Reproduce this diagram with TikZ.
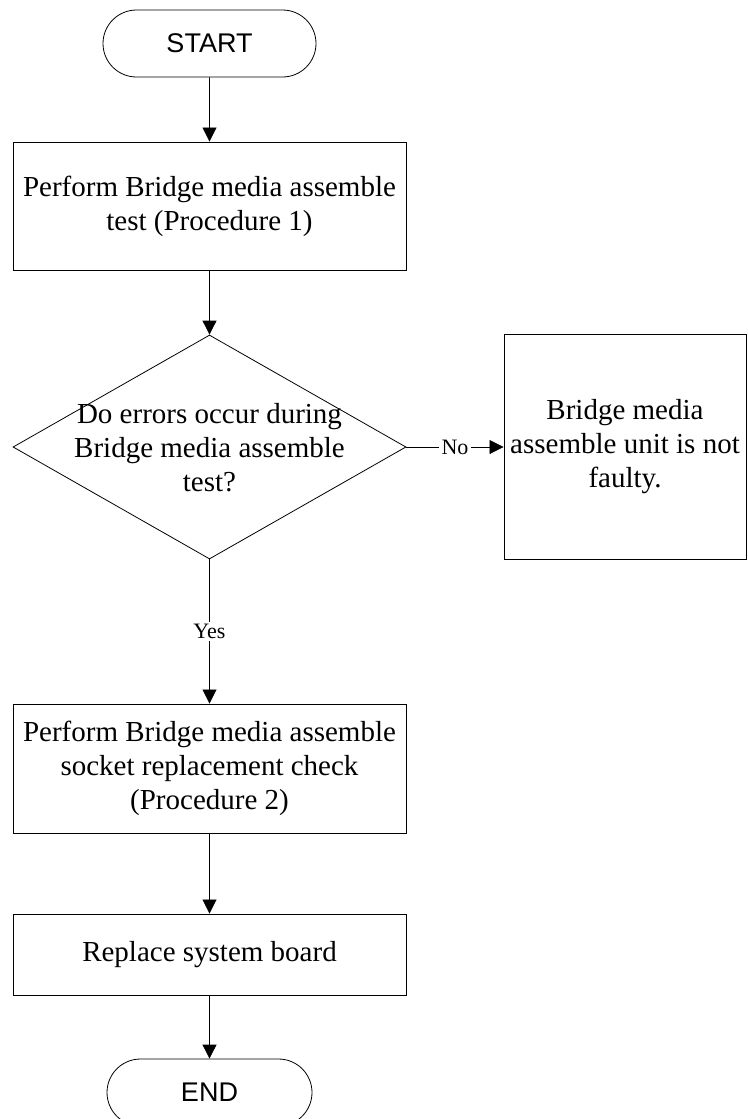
\documentclass[tikz,border=0pt]{standalone}
\usepackage{fontspec}
\setmainfont{Liberation Serif}
\newfontfamily\sansfnt{Liberation Sans}
\usetikzlibrary{shapes.geometric,shapes.misc,arrows.meta}
\tikzset{
  term/.style={draw, line width=0.8pt, rounded rectangle, minimum height=67pt, inner sep=0pt,
               font=\sansfnt\fontsize{27}{30}\selectfont},
  procbox/.style={draw, line width=0.9pt, rectangle, minimum width=393pt, inner sep=0pt, align=center,
               font=\fontsize{29}{34}\selectfont},
  decbox/.style={draw, line width=0.8pt, diamond, minimum width=393pt, minimum height=224pt, inner sep=0pt},
  dectext/.style={align=center, inner sep=0pt, font=\fontsize{29}{34}\selectfont},
  arr/.style={line width=0.8pt, -{Triangle[length=14pt,width=14pt]}},
  lbl/.style={fill=white, inner xsep=3pt, inner ysep=2pt, font=\fontsize{22}{25}\selectfont}
}
\begin{document}
\begin{tikzpicture}[x=1pt,y=-1pt]
\useasboundingbox (0,0) rectangle (747,1119);
\node[term, minimum width=213pt] (start) at (209.5,43.5) {START};
\node[procbox, minimum height=128pt] (b1) at (209.5,206) {Perform Bridge media assemble\\test (Procedure 1)};
\node[decbox] (dia) at (209.5,447) {};
\node[dectext] (diat) at (209.5,448) {Do errors occur during\\Bridge media assemble\\test?};
\node[procbox, minimum width=242pt, minimum height=225pt] (nf) at (625,447) {Bridge media\\assemble unit is not\\faulty.};
\node[procbox, minimum height=129pt] (b3) at (209.5,768.5) {Perform Bridge media assemble\\socket replacement check\\(Procedure 2)};
\node[procbox, minimum height=81pt] (b4) at (209.5,954.5) {Replace system board};
\node[term, minimum width=205pt] (end) at (209.5,1092.5) {END};
\draw[arr] (start) -- (b1);
\draw[arr] (b1) -- (dia);
\draw[arr] (dia.east) -- node[lbl] (no) {No} (nf.west);
\draw[arr] (dia.south) -- node[lbl] (yes) {Yes} (b3);
\draw[arr] (b3) -- (b4);
\draw[arr] (b4) -- (end);
\end{tikzpicture}
\end{document}
